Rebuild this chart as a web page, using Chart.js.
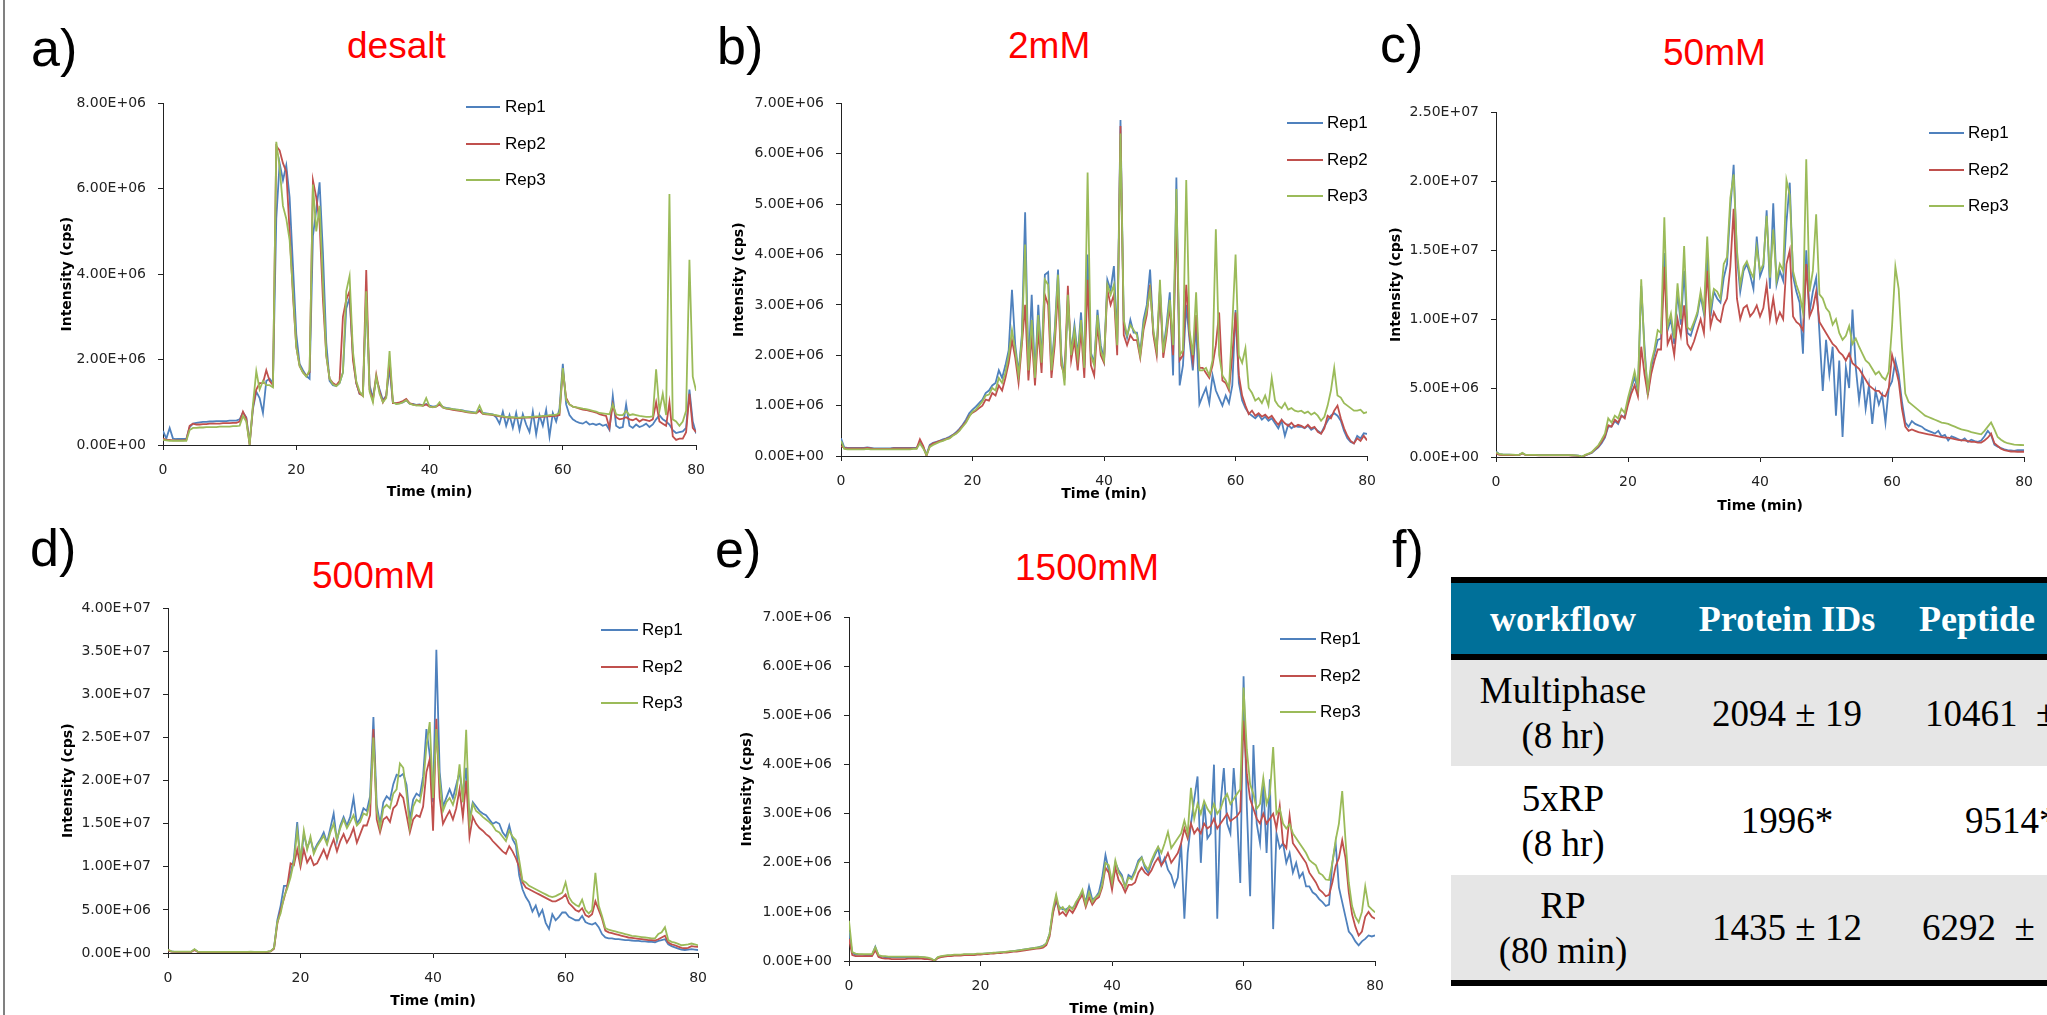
<!DOCTYPE html>
<html>
<head>
<meta charset="utf-8">
<script src="https://cdn.jsdelivr.net/npm/chart.js@4.4.1/dist/chart.umd.min.js"></script>
<style>
  body { margin:0; width:2047px; height:1015px; overflow:hidden; background:#fff; position:relative; font-family:'Liberation Sans', Arial, sans-serif; }
  .abs { position:absolute; white-space:nowrap; }
  .letter { font-size:52px; line-height:1; color:#000; }
  .ttl { font-size:37px; line-height:1; color:#ff0000; }
  .frame { left:3px; top:0; width:2px; height:1015px; background:#808080; }
  canvas { position:absolute; }
  .leg { display:flex; align-items:center; height:20px; font-size:17px; line-height:20px; color:#000; }
  .leg i { display:block; height:2px; }
  #tbl { left:1451px; top:577px; width:700px; font-family:'Liberation Serif', 'Times New Roman', serif; }
  #tbl .bar { height:6px; background:#000; }
  #tbl .row { display:flex; align-items:center; }
  #tbl .hdr { height:71px; background:#007099; color:#fff; font-weight:bold; font-size:36px; }
  #tbl .gray { background:#e6e6e6; }
  #tbl .body { font-size:37px; line-height:45px; color:#000; }
  #tbl .c { width:224px; text-align:center; }
  #tbl .c3 { flex:1; white-space:nowrap; }
</style>
</head>
<body>
<div class="abs frame"></div>

<div class="abs letter" style="left:31px;top:22px">a)</div>
<div class="abs letter" style="left:717px;top:20px">b)</div>
<div class="abs letter" style="left:1380px;top:18px">c)</div>
<div class="abs letter" style="left:30px;top:522px">d)</div>
<div class="abs letter" style="left:715px;top:523px">e)</div>
<div class="abs letter" style="left:1392px;top:523px">f)</div>

<div class="abs ttl" style="left:347px;top:27px">desalt</div>
<div class="abs ttl" style="left:1008px;top:27px">2mM</div>
<div class="abs ttl" style="left:1663px;top:34px">50mM</div>
<div class="abs ttl" style="left:312px;top:557px">500mM</div>
<div class="abs ttl" style="left:1015px;top:549px">1500mM</div>

<div class="abs" id="tbl">
  <div class="bar"></div>
  <div class="row hdr">
    <div class="c">workflow</div>
    <div class="c">Protein IDs</div>
    <div class="c3" style="padding-left:20px">Peptide</div>
  </div>
  <div class="bar"></div>
  <div class="row body gray" style="height:106px">
    <div class="c">Multiphase<br>(8 hr)</div>
    <div class="c">2094 ± 19</div>
    <div class="c3" style="padding-left:26px">10461&nbsp;&nbsp;±</div>
  </div>
  <div class="row body" style="height:109px">
    <div class="c">5xRP<br>(8 hr)</div>
    <div class="c">1996*</div>
    <div class="c3" style="padding-left:66px">9514*</div>
  </div>
  <div class="row body gray" style="height:105px">
    <div class="c">RP<br>(80 min)</div>
    <div class="c">1435 ± 12</div>
    <div class="c3" style="padding-left:23px">6292&nbsp;&nbsp;±</div>
  </div>
  <div class="bar"></div>
</div>

<script>
// time grid, 0..80 min every 0.5 min
const TIME = Array.from({ length: 161 }, (_, i) => i / 2);
const REPS = ['Rep1', 'Rep2', 'Rep3'];
const COLORS = ['#4F81BD', '#C0504D', '#9BBB59'];

// intensities in units of 1E+06 cps, one row = 5 min
// a) desalt
const A_REP1 = [
  0.33,0.15,0.40,0.15,0.14,0.14,0.14,0.14,0.42,0.50,
  0.52,0.53,0.54,0.54,0.55,0.55,0.56,0.56,0.56,0.56,
  0.57,0.57,0.57,0.60,0.76,0.65,0.05,0.85,1.25,1.10,
  0.75,1.50,1.55,1.45,5.30,6.60,6.20,6.55,5.80,4.20,
  2.60,1.90,1.75,1.62,1.55,4.90,5.50,6.15,4.50,2.40,
  1.50,1.40,1.38,1.45,1.70,3.20,3.45,2.10,1.45,1.20,
  1.20,3.50,1.40,1.10,1.55,1.30,1.05,1.15,1.80,1.00,
  0.97,0.98,1.00,1.05,0.97,0.96,0.94,0.95,0.93,0.96,
  0.92,0.90,0.91,0.96,0.89,0.87,0.86,0.84,0.83,0.82,
  0.81,0.79,0.78,0.77,0.76,0.82,0.75,0.74,0.73,0.72,
  0.65,0.50,0.78,0.45,0.70,0.40,0.75,0.35,0.72,0.48,
  0.30,0.78,0.25,0.70,0.45,0.82,0.20,0.75,0.55,0.85,
  1.90,0.95,0.70,0.60,0.55,0.52,0.50,0.55,0.48,0.50,
  0.47,0.50,0.45,0.48,0.35,1.15,0.45,0.40,0.42,0.95,
  0.45,0.40,0.48,0.42,0.45,0.50,0.42,0.48,0.60,0.70,
  0.60,0.55,0.48,0.35,0.28,0.30,0.32,0.40,1.30,0.55,
  0.27];
const A_REP2 = [
  0.15,0.12,0.12,0.11,0.11,0.11,0.11,0.12,0.45,0.50,
  0.48,0.48,0.49,0.49,0.50,0.50,0.50,0.50,0.51,0.51,
  0.51,0.52,0.52,0.55,0.78,0.62,0.00,0.90,1.30,1.45,
  1.45,1.75,1.50,1.40,7.00,6.90,6.60,6.40,5.00,3.50,
  2.30,1.85,1.70,1.62,1.70,6.20,5.80,5.20,3.40,2.10,
  1.55,1.45,1.40,1.50,3.00,3.40,3.60,2.00,1.45,1.20,
  1.15,4.10,1.30,1.05,1.65,1.25,1.00,1.15,2.00,0.98,
  0.98,1.00,1.03,1.08,0.98,0.95,0.93,0.94,0.92,0.95,
  0.90,0.89,0.90,0.95,0.88,0.85,0.84,0.82,0.81,0.80,
  0.79,0.77,0.76,0.75,0.74,0.80,0.73,0.72,0.71,0.70,
  0.69,0.67,0.66,0.65,0.64,0.64,0.63,0.63,0.64,0.64,
  0.64,0.65,0.65,0.66,0.66,0.67,0.67,0.68,0.68,0.70,
  1.75,1.10,0.95,0.90,0.88,0.85,0.83,0.82,0.80,0.78,
  0.76,0.72,0.70,0.68,0.40,0.95,0.65,0.60,0.62,0.65,
  0.60,0.58,0.62,0.55,0.60,0.58,0.56,0.60,1.00,0.55,
  0.50,0.45,1.00,0.20,0.12,0.15,0.15,0.30,1.20,0.40,
  0.30];
const A_REP3 = [
  0.12,0.11,0.10,0.10,0.10,0.10,0.10,0.10,0.35,0.40,
  0.40,0.41,0.41,0.42,0.42,0.42,0.42,0.43,0.43,0.43,
  0.43,0.44,0.44,0.45,0.68,0.55,0.02,0.95,1.73,1.30,
  1.50,1.40,1.40,1.35,7.10,6.50,5.60,5.30,4.80,3.60,
  2.30,1.85,1.70,1.60,1.75,6.10,5.00,5.60,3.80,2.10,
  1.55,1.42,1.38,1.45,1.70,3.60,3.96,2.20,1.50,1.25,
  1.15,3.60,1.25,1.00,1.60,1.20,1.00,1.10,2.20,1.00,
  0.96,0.97,1.00,1.05,0.97,0.94,0.93,0.92,0.92,1.10,
  0.90,0.88,0.90,1.00,0.88,0.86,0.85,0.84,0.83,0.82,
  0.80,0.78,0.77,0.76,0.75,0.92,0.74,0.73,0.72,0.71,
  0.70,0.68,0.67,0.66,0.65,0.65,0.64,0.64,0.65,0.65,
  0.66,0.66,0.67,0.67,0.68,0.68,0.70,0.70,0.71,0.75,
  1.80,1.05,0.95,0.90,0.88,0.87,0.85,0.84,0.82,0.80,
  0.78,0.75,0.74,0.73,0.72,0.95,0.72,0.70,0.70,0.80,
  0.70,0.72,0.70,0.68,0.67,0.66,0.66,0.67,1.77,0.80,
  1.20,0.70,5.88,0.60,0.55,0.45,0.55,0.80,4.34,1.60,
  1.27];

// b) 2mM
const B_REP1 = [
  0.35,0.17,0.16,0.16,0.16,0.16,0.16,0.16,0.17,0.16,
  0.15,0.15,0.15,0.15,0.15,0.15,0.16,0.16,0.16,0.16,
  0.16,0.16,0.16,0.16,0.28,0.18,0.03,0.22,0.26,0.28,
  0.30,0.33,0.35,0.38,0.42,0.47,0.54,0.62,0.72,0.85,
  0.92,0.98,1.05,1.12,1.25,1.30,1.40,1.45,1.70,1.55,
  1.80,2.10,3.30,2.20,1.65,2.40,4.84,1.75,3.20,1.60,
  3.00,1.90,3.60,3.65,1.75,2.50,3.70,2.00,1.55,3.10,
  2.05,2.60,2.00,2.85,1.80,4.00,2.05,1.85,2.90,2.20,
  1.90,3.50,3.30,3.77,2.25,6.67,2.60,2.35,2.70,2.45,
  2.45,2.05,2.70,3.00,3.70,2.45,2.10,3.30,2.10,2.60,
  3.25,1.60,5.53,1.40,1.80,3.00,2.30,1.70,2.60,1.03,
  1.20,1.35,1.05,1.60,1.30,1.15,1.00,1.20,1.05,1.40,
  2.90,1.45,1.10,0.95,0.85,0.80,0.75,0.82,0.72,0.78,
  0.70,0.75,0.65,0.55,0.70,0.40,0.62,0.55,0.60,0.58,
  0.58,0.55,0.60,0.52,0.56,0.50,0.45,0.58,0.70,0.80,
  0.85,0.80,0.70,0.50,0.35,0.28,0.25,0.40,0.35,0.45,
  0.44];
const B_REP2 = [
  0.20,0.16,0.15,0.15,0.15,0.15,0.15,0.15,0.16,0.15,
  0.14,0.14,0.14,0.14,0.14,0.14,0.15,0.15,0.15,0.15,
  0.15,0.15,0.15,0.15,0.33,0.20,0.00,0.20,0.25,0.27,
  0.30,0.31,0.34,0.36,0.41,0.45,0.52,0.60,0.68,0.80,
  0.86,0.90,0.95,1.00,1.12,1.10,1.25,1.20,1.40,1.30,
  1.55,1.85,2.30,1.95,1.45,2.20,3.00,1.50,2.40,1.40,
  2.50,1.65,3.20,3.00,1.55,2.20,3.30,1.80,1.60,3.38,
  1.90,2.30,1.70,2.50,1.55,3.50,1.80,1.60,2.60,2.00,
  1.85,3.30,3.00,3.20,2.00,6.55,2.40,2.20,2.40,2.30,
  2.30,1.95,2.50,2.80,3.40,2.40,2.00,3.30,1.95,2.40,
  3.00,2.00,4.80,1.90,2.00,3.40,2.40,1.90,2.80,1.75,
  1.75,1.65,1.55,1.80,2.20,2.85,1.50,1.45,1.30,2.00,
  2.85,1.60,1.20,1.00,0.83,0.90,0.80,0.85,0.78,0.82,
  0.75,0.80,0.70,0.62,0.72,0.65,0.60,0.66,0.58,0.62,
  0.60,0.56,0.62,0.55,0.58,0.48,0.44,0.55,0.80,0.75,
  0.90,1.00,0.75,0.55,0.40,0.30,0.25,0.35,0.30,0.40,
  0.31];
const B_REP3 = [
  0.30,0.14,0.13,0.13,0.13,0.13,0.13,0.13,0.14,0.13,
  0.13,0.13,0.13,0.13,0.13,0.13,0.13,0.13,0.13,0.13,
  0.13,0.13,0.14,0.14,0.25,0.15,0.02,0.18,0.22,0.25,
  0.28,0.30,0.33,0.35,0.40,0.44,0.50,0.58,0.66,0.78,
  0.88,0.92,1.00,1.08,1.20,1.22,1.35,1.30,1.55,1.45,
  1.65,2.00,2.50,2.10,1.60,2.30,4.20,1.70,2.70,1.55,
  2.80,1.85,3.50,3.40,1.70,2.40,3.60,1.95,1.40,3.20,
  2.00,2.50,1.95,2.70,1.75,5.63,2.00,1.80,2.80,2.10,
  1.90,3.40,3.20,3.40,2.20,6.40,2.70,2.40,2.60,2.50,
  2.40,2.00,2.60,2.90,3.30,2.50,2.10,3.50,2.05,2.50,
  3.10,2.20,5.30,2.00,2.10,5.48,2.50,2.00,3.25,1.70,
  1.70,1.75,1.60,1.90,4.50,2.00,1.60,1.50,1.35,2.60,
  4.00,2.00,1.85,2.14,1.35,1.25,1.10,1.15,1.05,1.20,
  1.00,1.55,1.10,1.00,0.95,1.05,0.92,0.95,0.90,0.88,
  0.90,0.85,0.88,0.82,0.86,0.80,0.70,0.78,1.00,1.30,
  1.75,1.20,1.16,1.05,1.00,0.95,0.90,0.90,0.92,0.85,
  0.87];

// c) 50mM
const C_REP1 = [
  0.40,0.20,0.18,0.17,0.17,0.16,0.16,0.16,0.28,0.15,
  0.15,0.15,0.14,0.14,0.14,0.14,0.14,0.14,0.14,0.14,
  0.14,0.13,0.13,0.12,0.11,0.09,0.02,0.12,0.20,0.30,
  0.50,0.70,1.00,1.40,2.20,2.20,2.60,2.40,3.00,2.90,
  4.00,5.00,5.80,4.80,12.40,8.00,4.50,6.50,7.50,8.50,
  8.60,14.80,9.20,10.00,8.20,12.00,9.60,13.50,9.00,8.80,
  9.60,10.30,11.70,10.40,14.50,10.20,12.00,11.50,11.20,13.00,
  14.00,18.00,21.20,14.50,12.00,13.50,14.00,13.20,12.20,16.00,
  13.10,13.80,17.90,12.20,18.40,12.50,13.50,12.80,17.00,19.90,
  13.10,12.00,11.20,7.50,15.00,10.50,12.00,13.00,9.00,4.80,
  8.50,6.00,8.00,3.00,7.00,1.45,6.50,5.00,10.70,6.50,
  4.10,6.00,3.50,5.20,2.40,4.80,3.80,4.50,2.50,5.00,
  5.50,7.00,6.00,4.00,2.50,2.20,2.60,2.40,2.30,2.20,
  2.00,1.90,1.80,1.70,1.90,1.50,1.60,1.20,1.50,1.40,
  1.30,1.20,1.35,1.10,1.25,1.15,1.10,1.20,1.50,1.90,
  1.60,0.90,0.75,0.65,0.55,0.50,0.48,0.45,0.50,0.50,
  0.50];
const C_REP2 = [
  0.25,0.15,0.14,0.14,0.14,0.14,0.14,0.14,0.25,0.13,
  0.13,0.13,0.13,0.12,0.12,0.12,0.12,0.12,0.12,0.12,
  0.12,0.12,0.12,0.11,0.10,0.08,0.00,0.12,0.22,0.32,
  0.55,0.75,1.10,1.50,2.30,2.20,2.70,2.50,3.00,2.80,
  3.80,4.60,5.20,4.40,8.00,6.00,4.50,6.00,7.00,7.80,
  7.80,13.80,8.20,8.80,7.40,10.00,8.80,11.00,8.20,7.80,
  8.40,9.20,10.00,9.00,13.50,9.50,10.50,10.00,9.80,11.00,
  11.50,13.80,18.00,11.50,10.00,10.80,11.00,10.20,10.50,11.00,
  10.20,10.80,12.50,10.00,11.50,9.80,10.50,10.00,14.00,15.00,
  10.20,9.80,9.60,9.20,14.00,10.20,10.80,12.00,9.80,9.40,
  9.00,8.60,8.20,8.00,7.60,7.40,7.00,7.50,6.80,6.60,
  6.40,6.00,5.60,5.20,5.00,4.80,4.80,4.50,4.40,5.00,
  7.40,6.50,5.50,3.50,2.20,1.90,2.00,1.90,1.80,1.75,
  1.70,1.65,1.60,1.55,1.50,1.45,1.40,1.40,1.35,1.30,
  1.25,1.20,1.20,1.15,1.10,1.10,1.05,1.05,1.20,1.40,
  1.70,1.00,0.80,0.60,0.50,0.45,0.40,0.40,0.38,0.38,
  0.38];
const C_REP3 = [
  0.35,0.20,0.18,0.17,0.17,0.17,0.16,0.16,0.30,0.15,
  0.15,0.15,0.15,0.14,0.14,0.14,0.14,0.14,0.14,0.14,
  0.14,0.13,0.13,0.13,0.12,0.10,0.02,0.15,0.25,0.35,
  0.60,0.85,1.25,1.70,2.80,2.50,3.00,2.80,3.50,3.20,
  4.30,5.20,6.20,5.00,12.90,7.50,4.80,6.80,7.80,9.20,
  9.00,17.40,9.50,10.40,8.60,12.60,10.00,15.30,9.40,9.20,
  9.80,10.50,12.00,10.60,16.00,10.80,12.20,12.00,11.50,14.00,
  14.50,18.80,20.50,15.00,12.50,13.80,14.20,13.50,13.00,15.20,
  13.50,14.00,17.50,13.00,16.50,12.80,14.00,13.50,20.10,19.00,
  13.50,12.50,11.80,10.50,21.60,12.00,13.50,17.60,11.80,11.50,
  10.80,10.50,9.60,10.00,9.00,8.50,8.80,9.50,8.20,8.60,
  8.00,7.50,7.00,6.80,6.40,6.00,6.20,5.80,5.60,6.20,
  9.50,13.80,12.20,8.00,4.60,4.00,3.80,3.60,3.40,3.20,
  3.00,2.90,2.80,2.70,2.60,2.50,2.45,2.40,2.30,2.20,
  2.10,2.00,1.95,1.90,1.80,1.75,1.70,1.65,1.90,2.20,
  2.50,2.00,1.45,1.25,1.10,1.00,0.95,0.90,0.88,0.87,
  0.86];

// d) 500mM
const D_REP1 = [
  0.35,0.18,0.14,0.14,0.14,0.14,0.14,0.14,0.40,0.14,
  0.13,0.13,0.12,0.12,0.12,0.12,0.12,0.12,0.11,0.11,
  0.11,0.11,0.11,0.11,0.11,0.14,0.11,0.11,0.11,0.11,
  0.14,0.20,0.55,3.80,5.50,7.80,7.80,9.20,11.00,15.20,
  10.50,13.80,12.20,13.20,11.80,12.60,13.20,14.00,12.80,14.50,
  16.20,13.00,14.80,15.80,14.80,15.80,18.00,15.00,15.60,16.80,
  16.50,18.20,27.40,17.20,15.00,17.50,18.20,17.80,19.60,20.70,
  20.50,20.80,19.50,15.50,17.80,18.50,18.20,20.50,26.00,23.00,
  17.50,35.20,21.00,17.00,18.00,19.00,18.00,19.50,21.00,18.20,
  21.50,15.50,17.50,17.00,16.50,16.20,16.00,15.50,15.00,15.20,
  15.00,14.00,13.50,14.80,13.20,12.50,9.00,7.40,6.50,5.90,
  4.80,5.50,4.30,5.00,3.50,2.80,4.50,3.80,4.20,4.70,
  4.70,4.20,4.00,3.80,3.80,4.30,3.60,3.40,3.30,3.50,
  3.00,2.20,1.80,1.70,1.70,1.60,1.60,1.55,1.50,1.50,
  1.45,1.40,1.40,1.35,1.35,1.30,1.30,1.25,1.40,1.50,
  1.60,1.00,0.80,0.65,0.50,0.40,0.35,0.40,0.45,0.40,
  0.35];
const D_REP2 = [
  0.30,0.15,0.12,0.12,0.12,0.12,0.12,0.12,0.35,0.12,
  0.11,0.11,0.11,0.11,0.10,0.10,0.10,0.10,0.10,0.10,
  0.10,0.10,0.10,0.10,0.10,0.12,0.10,0.10,0.10,0.10,
  0.12,0.18,0.50,3.40,5.00,6.30,7.80,10.40,10.20,12.00,
  10.00,12.00,10.50,11.20,10.20,10.40,11.20,12.00,11.00,12.20,
  13.20,11.80,13.00,13.80,12.80,13.50,14.50,12.80,13.80,14.80,
  14.80,16.00,26.00,15.50,14.00,15.50,15.80,15.20,16.80,17.20,
  18.50,18.00,16.00,14.00,15.50,16.00,15.80,17.00,21.00,22.50,
  14.20,27.20,18.00,15.00,15.80,16.50,15.50,16.80,19.00,15.80,
  20.00,13.50,15.80,15.00,14.50,14.20,13.80,13.50,13.00,12.60,
  12.20,11.80,11.50,12.40,11.80,11.00,10.00,8.20,7.60,7.40,
  7.20,7.00,6.80,6.60,6.40,6.20,6.00,6.00,6.20,6.40,
  6.80,5.80,5.40,5.00,4.80,5.20,4.40,4.20,4.50,6.00,
  5.00,4.00,2.60,2.40,2.30,2.20,2.10,2.00,1.90,1.80,
  1.75,1.70,1.65,1.60,1.55,1.50,1.50,1.45,1.60,1.80,
  2.00,1.20,1.00,0.90,0.75,0.60,0.55,0.60,0.80,0.75,
  0.70];
const D_REP3 = [
  0.40,0.20,0.15,0.15,0.15,0.15,0.15,0.15,0.45,0.15,
  0.14,0.14,0.13,0.13,0.13,0.13,0.13,0.13,0.12,0.12,
  0.12,0.12,0.12,0.12,0.12,0.15,0.12,0.12,0.13,0.12,
  0.15,0.22,0.60,3.60,4.60,6.50,7.50,8.80,10.60,14.20,
  10.80,14.20,12.00,13.50,11.50,12.40,13.00,13.60,12.60,14.00,
  15.00,13.20,14.50,15.50,14.50,15.20,16.00,14.80,15.20,16.20,
  16.00,17.50,25.00,16.50,14.50,16.80,17.20,16.80,18.50,19.00,
  22.00,21.50,18.50,14.60,17.00,17.80,17.50,19.50,24.00,26.80,
  18.00,26.00,20.00,16.50,17.50,18.00,17.20,18.50,21.90,17.50,
  25.90,15.00,17.30,16.50,16.20,15.80,15.50,15.20,14.80,14.20,
  14.00,13.50,13.00,14.20,13.50,13.10,10.80,8.40,8.20,7.80,
  7.60,7.40,7.20,7.00,6.80,6.60,6.50,6.60,6.80,7.00,
  8.20,6.50,5.90,5.60,5.40,6.20,5.00,4.60,5.00,9.30,
  5.50,4.30,2.90,2.70,2.60,2.50,2.40,2.30,2.20,2.10,
  2.00,1.95,1.90,1.85,1.80,1.75,1.70,1.70,2.20,2.40,
  3.00,1.50,1.30,1.20,1.05,0.90,0.95,1.00,1.10,1.00,
  0.90];

// e) 1500mM
const E_REP1 = [
  0.60,0.16,0.13,0.13,0.13,0.12,0.12,0.12,0.29,0.10,
  0.09,0.08,0.08,0.08,0.08,0.08,0.08,0.08,0.08,0.08,
  0.08,0.08,0.08,0.07,0.06,0.04,0.01,0.07,0.09,0.10,
  0.11,0.11,0.12,0.12,0.12,0.13,0.13,0.13,0.13,0.14,
  0.14,0.15,0.15,0.16,0.16,0.17,0.17,0.18,0.18,0.19,
  0.20,0.21,0.22,0.23,0.24,0.25,0.26,0.27,0.29,0.31,
  0.35,0.55,1.00,1.20,1.10,1.05,1.05,1.10,1.08,1.15,
  1.30,1.40,1.20,1.52,1.25,1.30,1.40,1.70,2.16,1.85,
  1.55,2.00,1.85,1.75,1.50,1.75,1.70,1.85,2.05,2.12,
  1.90,1.80,2.00,2.15,2.30,1.95,2.10,1.86,1.75,1.52,
  1.70,2.40,0.86,2.20,2.80,3.30,3.76,2.00,3.26,2.50,
  2.60,4.00,0.86,3.20,3.93,2.80,2.60,3.93,3.00,1.59,
  5.80,3.13,1.32,4.40,2.80,2.40,3.60,2.20,3.70,0.65,
  2.60,2.30,2.40,2.00,2.20,1.80,2.00,1.70,1.80,1.52,
  1.52,1.40,1.35,1.26,1.20,1.12,1.15,2.00,2.40,1.50,
  1.20,0.90,0.60,0.52,0.40,0.32,0.40,0.45,0.52,0.50,
  0.52];
const E_REP2 = [
  0.45,0.12,0.10,0.10,0.10,0.10,0.10,0.10,0.22,0.08,
  0.06,0.05,0.05,0.04,0.04,0.04,0.04,0.04,0.05,0.05,
  0.05,0.05,0.05,0.04,0.04,0.03,0.00,0.06,0.08,0.09,
  0.10,0.10,0.11,0.11,0.11,0.12,0.12,0.12,0.12,0.13,
  0.13,0.14,0.14,0.15,0.15,0.16,0.16,0.17,0.17,0.18,
  0.19,0.19,0.20,0.21,0.22,0.23,0.24,0.25,0.26,0.27,
  0.32,0.50,0.95,1.30,0.95,1.00,0.92,1.05,0.98,1.10,
  1.25,1.35,1.10,1.30,1.15,1.25,1.30,1.50,1.90,1.80,
  1.45,1.90,1.65,1.55,1.40,1.55,1.55,1.60,1.80,1.90,
  1.80,1.75,1.85,2.00,2.10,1.95,2.05,2.20,2.00,2.10,
  2.20,2.40,2.70,2.50,2.80,2.60,2.70,2.60,2.80,2.70,
  2.75,2.90,2.70,2.80,2.90,3.00,2.85,2.90,2.95,3.05,
  4.90,3.80,3.30,3.10,2.90,2.80,3.00,2.80,2.90,3.00,
  2.70,3.16,2.40,2.30,2.96,2.40,2.30,2.20,2.10,2.00,
  1.80,1.70,1.60,1.46,1.40,1.32,1.35,1.60,1.93,2.10,
  2.46,2.10,1.40,0.95,0.70,0.52,0.60,0.90,1.00,0.90,
  0.86];
const E_REP3 = [
  0.82,0.18,0.15,0.14,0.14,0.14,0.14,0.14,0.28,0.12,
  0.10,0.10,0.09,0.09,0.09,0.09,0.09,0.09,0.09,0.09,
  0.09,0.09,0.08,0.08,0.07,0.05,0.01,0.08,0.10,0.11,
  0.12,0.12,0.13,0.13,0.13,0.14,0.14,0.14,0.14,0.15,
  0.15,0.15,0.16,0.16,0.17,0.17,0.18,0.18,0.19,0.20,
  0.20,0.21,0.22,0.23,0.24,0.25,0.26,0.27,0.28,0.30,
  0.36,0.55,1.05,1.35,1.05,1.10,1.00,1.12,1.05,1.20,
  1.30,1.45,1.15,1.40,1.20,1.30,1.35,1.55,2.00,1.95,
  1.60,2.05,1.80,1.70,1.50,1.70,1.66,1.80,2.00,2.10,
  1.95,1.86,2.05,2.20,2.33,2.20,2.40,2.63,2.30,2.40,
  2.50,2.60,2.86,2.60,3.53,2.90,3.20,3.00,3.26,3.10,
  3.00,3.20,3.00,3.10,3.30,3.40,3.20,3.30,3.40,3.50,
  5.57,4.30,3.60,3.40,3.10,3.20,3.73,3.20,3.40,4.36,
  3.00,3.10,2.80,2.70,2.79,2.60,2.50,2.40,2.30,2.20,
  2.06,2.00,1.95,1.79,1.75,1.66,1.65,2.00,2.46,2.80,
  3.46,2.46,1.60,1.12,0.90,0.79,1.00,1.52,1.12,1.05,
  0.99];

// plot boxes (chart area) and legend spots in page pixels
const PANELS = [
  { id:'a', series:[A_REP1,A_REP2,A_REP3], yMax:8,  yStep:2, box:[163,98,703,445],   yPad:15.6, xPad:2.6, leg:[466,500,505,107] },
  { id:'b', series:[B_REP1,B_REP2,B_REP3], yMax:7,  yStep:1, box:[841,98,1374,456],  yPad:9.6,  xPad:11.6, leg:[1287,1323,1327,123] },
  { id:'c', series:[C_REP1,C_REP2,C_REP3], yMax:25, yStep:5, box:[1496,107,2031,457], yPad:11.6, xPad:0.6, leg:[1929,1964,1968,133] },
  { id:'d', series:[D_REP1,D_REP2,D_REP3], yMax:40, yStep:5, box:[168,603,705,953],  yPad:11.6, xPad:1.6, leg:[601,638,642,630] },
  { id:'e', series:[E_REP1,E_REP2,E_REP3], yMax:7,  yStep:1, box:[849,612,1382,961], yPad:9.6,  xPad:1.6, leg:[1280,1316,1320,639] }
];
const Y_W = 120, X_H = 58, PAD_T = 15, PAD_R = 14;

const sci = (m) => {
  const v = Math.round(m * 1e6);
  if (v === 0) return '0.00E+00';
  const e = Math.floor(Math.log10(v) + 1e-9);
  return `${(v / Math.pow(10, e)).toFixed(2)}E+${String(e).padStart(2, '0')}`;
};

Chart.defaults.font.family = "'DejaVu Sans', sans-serif";
Chart.defaults.color = '#222';

function legend(p) {
  const [x1, x2, tx, y0] = p.leg;
  REPS.forEach((name, k) => {
    const row = document.createElement('div');
    row.className = 'abs leg';
    row.style.left = x1 + 'px';
    row.style.top = (y0 + k * 36.5 - 10) + 'px';
    row.innerHTML = `<i style="width:${x2 - x1}px;background:${COLORS[k]};margin-right:${tx - x2}px"></i>${name}`;
    document.body.appendChild(row);
  });
}

function panel(p) {
  const [l, t, r, b] = p.box;
  const cv = document.createElement('canvas');
  cv.width = (r - l) + Y_W + PAD_R;
  cv.height = (b - t) + PAD_T + X_H;
  cv.style.left = (l - Y_W) + 'px';
  cv.style.top = (t - PAD_T) + 'px';
  document.body.appendChild(cv);

  const axisLine = { display: true, color: '#222', width: 1 };
  const gridOff = { display: true, drawOnChartArea: false, drawTicks: true, tickLength: 5, color: '#222' };
  const title = { size: 14, weight: 'bold' };

  new Chart(cv, {
    type: 'line',
    data: {
      datasets: p.series.map((s, k) => ({
        label: REPS[k],
        data: TIME.map((x, i) => ({ x, y: s[i] })),
        borderColor: COLORS[k],
        borderWidth: 1.8,
        pointRadius: 0,
        tension: 0,
        order: 3 - k
      }))
    },
    options: {
      responsive: false,
      animation: false,
      devicePixelRatio: 1,
      events: [],
      layout: { padding: { left: 0, top: PAD_T, right: PAD_R, bottom: 0 } },
      plugins: { legend: { display: false }, tooltip: { enabled: false } },
      scales: {
        x: {
          type: 'linear', min: 0, max: 80,
          border: axisLine, grid: gridOff,
          ticks: { stepSize: 20, padding: 12, font: { size: 14 }, maxRotation: 0 },
          title: { display: true, text: 'Time (min)', color: '#000', font: title, padding: { top: 0, bottom: p.xPad } },
          afterFit: (s) => { s.height = X_H; }
        },
        y: {
          min: 0, max: p.yMax,
          border: axisLine, grid: gridOff,
          ticks: { stepSize: p.yStep, padding: 12, font: { size: 14 }, callback: (v) => sci(v) },
          title: { display: true, text: 'Intensity (cps)', color: '#000', font: title, padding: { top: p.yPad, bottom: 0 } },
          afterFit: (s) => { s.width = Y_W; }
        }
      }
    }
  });
  legend(p);
}

PANELS.forEach(panel);
</script>
</body>
</html>
